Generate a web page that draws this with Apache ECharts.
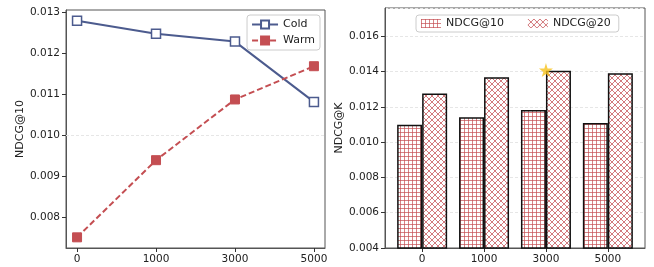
<!DOCTYPE html>
<html>
<head>
<meta charset="utf-8">
<script src="https://cdn.jsdelivr.net/npm/echarts@6/dist/echarts.min.js"></script>
<style>
  html, body { margin: 0; padding: 0; background: #fff; }
  #main { width: 654px; height: 267px; }
</style>
</head>
<body>
<div id="main"></div>
<script>
// data
var steps = ['0', '1000', '3000', '5000'];
var cold = [0.01279, 0.01247, 0.01228, 0.01081];
var warm = [0.00751, 0.00939, 0.01087, 0.01168];
var ndcg10 = [0.01099, 0.01141, 0.01182, 0.01109];
var ndcg20 = [0.01276, 0.01367, 0.01405, 0.01390];
var leftTicks = [0.008, 0.009, 0.010, 0.011, 0.012, 0.013];
var bestIdx = 2;
var bestVal = 0.01408;

var font = 'DejaVu Sans';
var txt = '#222';
var red = '#c44e52';
var blue = '#4c5b8e';
var axisCol = '#555';

// hatch fills
function plusHatch() {
    var c = document.createElement('canvas');
    c.width = 4; c.height = 4;
    var g = c.getContext('2d');
    g.fillStyle = '#fff';
    g.fillRect(0, 0, 4, 4);
    g.strokeStyle = 'rgba(196,78,82,0.7)';
    g.lineWidth = 1;
    g.beginPath();
    g.moveTo(0.5, 0); g.lineTo(0.5, 4);
    g.moveTo(0, 0.5); g.lineTo(4, 0.5);
    g.stroke();
    return c;
}
function crossHatch() {
    var c = document.createElement('canvas');
    c.width = 6; c.height = 6;
    var g = c.getContext('2d');
    g.fillStyle = '#fff';
    g.fillRect(0, 0, 6, 6);
    g.strokeStyle = 'rgba(196,78,82,0.75)';
    g.lineWidth = 1;
    g.beginPath();
    g.moveTo(0, 0); g.lineTo(6, 6);
    g.moveTo(6, 0); g.lineTo(0, 6);
    g.stroke();
    return c;
}

function pairs(arr) {
    return arr.map(function (v, i) { return [i, v]; });
}
function idxLabel(v) { return steps[Math.round(v)]; }

var star = 'path://M50,0 L61,35 L98,35 L68,57 L79,91 L50,70 L21,91 L32,57 L2,35 L39,35 Z';

function tick(vals) {
    var t = { show: true, length: 4, lineStyle: { color: '#333', width: 1 } };
    if (vals) t.customValues = vals;
    return t;
}
var line = { show: true, onZero: false, lineStyle: { color: axisCol, width: 1 } };

var myChart = echarts.init(document.getElementById('main'));

var option = {
    backgroundColor: '#fff',
    textStyle: { fontFamily: font },
    grid: [
        { left: 66, right: 329, top: 10, bottom: 19, show: true, borderColor: axisCol, borderWidth: 1, backgroundColor: 'transparent' },
        { left: 385, right: 9, top: 8, bottom: 19, show: true, borderColor: axisCol, borderWidth: 1, backgroundColor: 'transparent' }
    ],
    legend: [
        {
            data: ['Cold', 'Warm'],
            orient: 'vertical',
            right: 334, top: 15,
            itemWidth: 26, itemHeight: 10, itemGap: 5,
            borderColor: '#ccc', borderWidth: 1, borderRadius: 3,
            padding: [4, 5, 4, 4],
            textStyle: { fontFamily: font, fontSize: 11, color: txt }
        },
        {
            data: [
                { name: 'NDCG@10', itemStyle: { color: { image: plusHatch(), repeat: 'repeat' }, borderWidth: 0 } },
                { name: 'NDCG@20', itemStyle: { color: { image: crossHatch(), repeat: 'repeat' }, borderWidth: 0 } }
            ],
            orient: 'horizontal',
            left: 416, top: 15,
            icon: 'rect', itemWidth: 20, itemHeight: 9, itemGap: 24,
            borderColor: '#ccc', borderWidth: 1, borderRadius: 3,
            padding: [3, 8, 3, 5],
            textStyle: { fontFamily: font, fontSize: 11, color: txt }
        }
    ],
    xAxis: [
        {
            gridIndex: 0, type: 'value', min: -0.14, max: 3.14,
            splitLine: { show: false },
            axisLine: line,
            axisTick: tick([0, 1, 2, 3]),
            axisLabel: { customValues: [0, 1, 2, 3], formatter: idxLabel, color: txt, fontSize: 10.5, margin: 6 }
        },
        {
            gridIndex: 1, type: 'value', min: -0.6, max: 3.6,
            splitLine: { show: false },
            axisLine: line,
            axisTick: tick([0, 1, 2, 3]),
            axisLabel: { customValues: [0, 1, 2, 3], formatter: idxLabel, color: txt, fontSize: 10.5, margin: 6 }
        }
    ],
    yAxis: [
        {
            gridIndex: 0, type: 'value', min: 0.00725, max: 0.01305,
            name: 'NDCG@10', nameLocation: 'middle', nameGap: 38,
            nameTextStyle: { color: txt, fontSize: 11 },
            splitLine: { show: false },
            axisLine: line,
            axisTick: tick(leftTicks),
            axisLabel: { customValues: leftTicks, formatter: function (v) { return v.toFixed(3); }, color: txt, fontSize: 10.5, margin: 6 }
        },
        {
            gridIndex: 1, type: 'value', min: 0.004, max: 0.0176, interval: 0.002,
            name: 'NDCG@K', nameLocation: 'middle', nameGap: 38,
            nameTextStyle: { color: txt, fontSize: 11 },
            splitLine: { show: true, lineStyle: { color: '#e6e6e6', type: [3, 2] } },
            axisLine: line,
            axisTick: tick(),
            axisLabel: { showMaxLabel: false, formatter: function (v) { return v.toFixed(3); }, color: txt, fontSize: 10.5, margin: 6 }
        }
    ],
    series: [
        {
            name: 'Cold', type: 'line', xAxisIndex: 0, yAxisIndex: 0,
            data: pairs(cold),
            symbol: 'rect', symbolSize: 9,
            lineStyle: { color: blue, width: 2 },
            itemStyle: { color: '#fff', borderColor: blue, borderWidth: 1.5 },
            markLine: {
                silent: true, symbol: 'none', label: { show: false },
                lineStyle: { color: '#e6e6e6', type: [3, 2], width: 1 },
                emphasis: { disabled: true },
                data: leftTicks.map(function (t) { return { yAxis: t }; })
            },
            z: 3
        },
        {
            name: 'Warm', type: 'line', xAxisIndex: 0, yAxisIndex: 0,
            data: pairs(warm),
            symbol: 'rect', symbolSize: 9,
            lineStyle: { color: red, width: 2, type: [6, 3] },
            itemStyle: { color: red, borderColor: red, borderWidth: 1 },
            z: 3
        },
        {
            name: 'NDCG@10', type: 'bar', xAxisIndex: 1, yAxisIndex: 1,
            data: pairs(ndcg10),
            barWidth: 25, barGap: '0%',
            itemStyle: { color: { image: plusHatch(), repeat: 'repeat' }, borderColor: '#111', borderWidth: 1.5 }
        },
        {
            name: 'NDCG@20', type: 'bar', xAxisIndex: 1, yAxisIndex: 1,
            data: pairs(ndcg20),
            barWidth: 25, barGap: '0%',
            itemStyle: { color: { image: crossHatch(), repeat: 'repeat' }, borderColor: '#111', borderWidth: 1.5 }
        },
        {
            name: 'best', type: 'scatter', xAxisIndex: 1, yAxisIndex: 1,
            data: [[bestIdx, bestVal]],
            symbol: star, symbolSize: 14,
            itemStyle: { color: '#f6c21c' },
            z: 5
        }
    ]
};

myChart.setOption(option);
</script>
</body>
</html>
